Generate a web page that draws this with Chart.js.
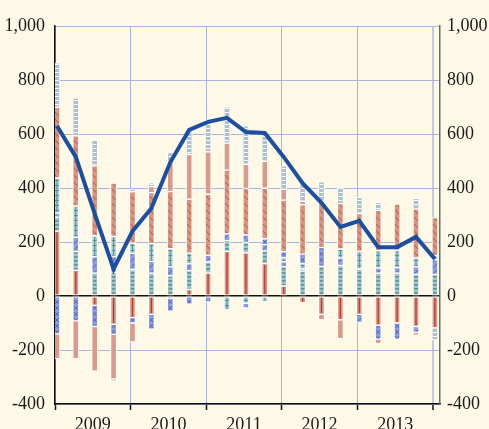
<!DOCTYPE html>
<html>
<head>
<meta charset="utf-8">
<script src="https://cdn.jsdelivr.net/npm/chart.js@4.4.1/dist/chart.umd.min.js"></script>
<style>
  html, body { margin: 0; padding: 0; background: #fef9e7; }
  #wrap { width: 489px; height: 429px; }
</style>
</head>
<body>
<div id="wrap"><canvas id="chart" width="489" height="429"></canvas></div>
<script>
// quarters 2009Q1 .. 2014Q1
const quarters = ['2009Q1', '2009Q2', '2009Q3', '2009Q4', '2010Q1', '2010Q2', '2010Q3', '2010Q4',
    '2011Q1', '2011Q2', '2011Q3', '2011Q4', '2012Q1', '2012Q2', '2012Q3', '2012Q4',
    '2013Q1', '2013Q2', '2013Q3', '2013Q4', '2014Q1'];
const years = ['2009', '2010', '2011', '2012', '2013'];
const yTicks = [-400, -200, 0, 200, 400, 600, 800, 1000];

// bar components (stack order follows this list)
const redLine   = [240, 95, -35, -105, -80, -68, -8, 24, 85, 165, 160, 120, 37, -25, -68, -88, -68, -108, -100, -113, -118];
const tealHoriz = [52, 70, 85, 88, 98, 85, 75, 70, 42, 40, 38, 47, 72, 92, 110, 113, 100, 85, 85, 80, 80];
const blueDiag  = [15, 52, 60, 58, 60, 43, 33, 25, 24, 25, 28, 23, 18, 8, 0, 27, 0, 18, 20, 28, 55];
const tealCross = [130, 117, 78, 75, 38, 66, 67, 40, 0, -52, -27, -20, 15, 20, 0, 34, 65, 66, 65, 33, 15];
const blueDiagNeg = [0, 0, 0, 0, 0, 0, 0, 0, 0, 0, -17, 0, 0, 0, 0, 0, -30, 0, 0, -22, 0];
const blueCross = [-140, -92, -78, -37, -20, -55, -48, -30, -22, 0, 0, 22, 22, 35, 70, 0, 0, -52, -60, 0, 0];
const salmonHatch = [262, 259, 259, 197, 190, 189, 212, 200, 226, 236, 172, 187, 191, 183, 169, 168, 140, 148, 170, 181, 140];
const salmonPlain = [-92, -140, -165, -165, -70, 22, 111, 165, 157, 100, 90, 100, 40, 13, -20, -70, 0, -16, 0, -10, 0];
const grayStripes = [165, 141, 95, -8, 10, 14, 33, 100, 117, 135, 142, 105, 87, 71, 74, 58, 60, 30, 0, 40, -45];

// net total (line)
const netTotal = [630, 515, 305, 100, 240, 325, 495, 615, 645, 660, 607, 604, 515, 418, 345, 256, 278, 181, 181, 219, 137];

const BG = '#fef9e7';
const GRID = '#a9b3e6';

function toPoints(values) {
    return values.map(function(v, i) {
        return { x: i, y: v === 0 ? null : v };
    });
}

function barSet(label, values, fill, kind, ink) {
    return {
        type: 'bar',
        label: label,
        data: toPoints(values),
        backgroundColor: fill,
        borderColor: '#ffffff',
        borderWidth: 1,
        borderSkipped: false,
        barThickness: 6,
        stack: 'bars',
        order: 1,
        kind: kind,
        ink: ink
    };
}

// draws the hatching inside each bar segment
function drawPattern(ctx, kind, ink, l, t, r, b, cx) {
    const w = r - l;
    ctx.fillStyle = ink;
    ctx.strokeStyle = ink;
    ctx.lineWidth = 0.9;
    if (kind === 'vline') {
        ctx.fillRect(cx - 0.6, t, 1.2, b - t);
    } else if (kind === 'hbands') {
        for (let yy = Math.floor(t / 4) * 4; yy < b + 4; yy += 4) {
            ctx.fillRect(l, yy, w, 1.7);
        }
    } else if (kind === 'white') {
        for (let yy = Math.floor(t / 4) * 4; yy < b + 4; yy += 4) {
            ctx.fillRect(l, yy, w, 1);
        }
    } else if (kind === 'plus') {
        ctx.fillRect(cx - 0.5, t, 1, b - t);
        for (let yy = Math.floor(t / 5) * 5; yy < b + 5; yy += 5) {
            ctx.fillRect(l, yy, w, 1);
        }
    } else if (kind === 'slash' || kind === 'back' || kind === 'xhatch') {
        const step = kind === 'back' ? 7 : 6;
        ctx.beginPath();
        for (let k = Math.floor((t - w) / step) * step; k < b + w; k += step) {
            if (kind !== 'back') {
                ctx.moveTo(l, k + w);
                ctx.lineTo(r, k);
            }
            if (kind !== 'slash') {
                ctx.moveTo(l, k);
                ctx.lineTo(r, k + w);
            }
        }
        ctx.stroke();
    }
}

const patternPlugin = {
    id: 'patterns',
    afterDatasetDraw(chart, args) {
        const ds = chart.data.datasets[args.index];
        if (!ds.kind || ds.kind === 'plain') return;
        const ctx = chart.ctx;
        args.meta.data.forEach(function(el) {
            const p = el.getProps(['x', 'y', 'base', 'width'], true);
            if (p.y == null || isNaN(p.y) || isNaN(p.base)) return;
            const l = p.x - p.width / 2 + 1;
            const r = p.x + p.width / 2 - 1;
            const t = Math.min(p.y, p.base) + 1;
            const b = Math.max(p.y, p.base) - 1;
            if (b - t < 0.5) return;
            ctx.save();
            ctx.beginPath();
            ctx.rect(l, t, r - l, b - t);
            ctx.clip();
            drawPattern(ctx, ds.kind, ds.ink, l, t, r, b, p.x);
            ctx.restore();
        });
    }
};

const backgroundPlugin = {
    id: 'bg',
    beforeDraw(chart) {
        const ctx = chart.ctx;
        ctx.save();
        ctx.fillStyle = BG;
        ctx.fillRect(0, 0, chart.width, chart.height);
        ctx.restore();
    }
};

// x ticks: year boundaries (grid + tick marks) and year centres (labels)
const xTickValues = [];
for (let k = 0; k <= years.length; k++) {
    xTickValues.push(k * 4 - 0.1);
    if (k < years.length) xTickValues.push(k * 4 + 1.9);
}

function isBoundary(index) {
    return index % 2 === 0;
}

function fmt(v) {
    return v.toLocaleString('en-US');
}

const yAxisCommon = {
    type: 'linear',
    min: -400,
    max: 1000,
    afterBuildTicks: function(scale) {
        scale.ticks = yTicks.map(function(v) { return { value: v }; });
    },
    ticks: {
        color: '#1a1a1a',
        font: { family: 'Liberation Serif', size: 18 },
        callback: function(v) { return fmt(v); }
    }
};

const ctx = document.getElementById('chart').getContext('2d');
new Chart(ctx, {
    data: {
        labels: quarters,
        datasets: [
            {
                type: 'line',
                label: 'Net',
                data: toPoints(netTotal),
                borderColor: '#1b4f9f',
                borderWidth: 4,
                pointRadius: 0,
                tension: 0,
                fill: false,
                stack: 'net',
                order: 0
            },
            barSet('A', redLine, '#da9786', 'vline', '#b5382c'),
            barSet('B', tealHoriz, '#a6c5c9', 'hbands', '#5c979f'),
            barSet('C', blueDiag, '#8e9de0', 'slash', '#4c60b6'),
            barSet('D', tealCross, '#b2d0d3', 'plus', '#4f8f97'),
            barSet('Cn', blueDiagNeg, '#8e9de0', 'slash', '#4c60b6'),
            barSet('H', blueCross, '#8e9de0', 'xhatch', '#4c60b6'),
            barSet('E', salmonHatch, '#d9957f', 'back', '#b5493b'),
            barSet('F', salmonPlain, '#d99a89', 'plain', null),
            barSet('G', grayStripes, '#aebfcd', 'white', '#ffffff')
        ]
    },
    options: {
        responsive: false,
        animation: false,
        events: [],
        layout: { padding: { top: 26, left: 0, right: 0, bottom: 0 } },
        plugins: {
            legend: { display: false },
            tooltip: { enabled: false },
            title: { display: false }
        },
        scales: {
            x: {
                type: 'linear',
                min: -0.1,
                max: 20.27,
                offset: false,
                stacked: true,
                afterBuildTicks: function(scale) {
                    scale.ticks = xTickValues.map(function(v) { return { value: v }; });
                },
                afterFit: function(scale) { scale.height = 25; },
                grid: {
                    offset: false,
                    color: function(c) {
                        if (!isBoundary(c.index)) return 'rgba(0,0,0,0)';
                        return c.index === xTickValues.length - 1 ? '#c4c9df' : GRID;
                    },
                    lineWidth: function(c) {
                        return c.index === xTickValues.length - 1 ? 2 : 1;
                    },
                    tickColor: function(c) {
                        return isBoundary(c.index) ? '#111111' : 'rgba(0,0,0,0)';
                    },
                    tickLength: 6,
                    tickWidth: 1.5
                },
                border: { color: '#111111', width: 1.5 },
                ticks: {
                    autoSkip: false,
                    maxRotation: 0,
                    padding: 4,
                    color: '#1a1a1a',
                    font: { family: 'Liberation Serif', size: 18 },
                    callback: function(v, i) {
                        return isBoundary(i) ? '' : years[(i - 1) / 2];
                    }
                }
            },
            y: Object.assign({}, yAxisCommon, {
                position: 'left',
                stacked: true,
                afterFit: function(scale) { scale.width = 55; },
                grid: {
                    color: function(c) { return c.tick && c.tick.value === 0 ? '#111111' : GRID; },
                    lineWidth: function(c) { return c.tick && c.tick.value === 0 ? 1.5 : 1; },
                    drawTicks: false
                },
                border: { color: '#111111', width: 1.5 },
                ticks: Object.assign({}, yAxisCommon.ticks, { padding: 10 })
            }),
            y2: Object.assign({}, yAxisCommon, {
                position: 'right',
                afterFit: function(scale) { scale.width = 49; },
                grid: { drawOnChartArea: false, drawTicks: false },
                border: { color: '#6b6b6b', width: 1.5 },
                ticks: Object.assign({}, yAxisCommon.ticks, { padding: 7 })
            })
        }
    },
    plugins: [backgroundPlugin, patternPlugin]
});
</script>
</body>
</html>
